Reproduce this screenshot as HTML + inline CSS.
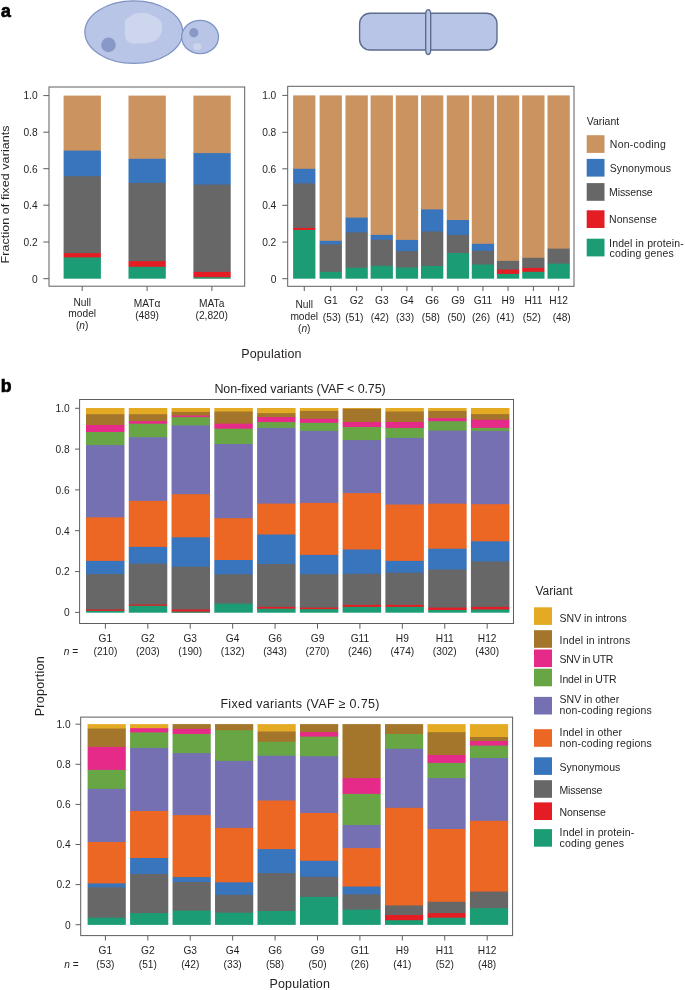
<!DOCTYPE html>
<html><head><meta charset="utf-8"><style>
html,body{margin:0;padding:0;background:#fff;}
body{width:685px;height:990px;overflow:hidden;}
svg{display:block;will-change:transform;}
text{font-family:"Liberation Sans", sans-serif;fill:#231f20;}
</style></head><body>
<svg width="685" height="990" viewBox="0 0 685 990">
<rect width="685" height="990" fill="#fff"/>
<text x="0.90" y="16.60" font-size="17.6" text-anchor="start" font-weight="bold" style="fill:#000" stroke="#000" stroke-width="0.7">a</text>
<g stroke="#7f94c3" stroke-width="1.3"><ellipse cx="133.8" cy="32.1" rx="48.9" ry="31.3" fill="#b8c5e6"/><ellipse cx="200.1" cy="37.0" rx="18.4" ry="16.6" fill="#b8c5e6"/></g>
<path d="M125.3 20.6 C125.9 18.9 127.3 18.8 128.5 17.8 C129.7 16.8 131.2 15.6 132.6 14.8 C134.0 14.1 134.8 13.6 137.0 13.3 C139.2 13.0 143.4 12.7 145.7 12.9 C148.0 13.2 149.1 14.1 150.8 14.8 C152.5 15.5 154.4 16.3 156.0 17.3 C157.6 18.3 159.3 19.3 160.3 20.6 C161.3 21.9 161.6 23.4 161.8 25.0 C162.1 26.6 162.2 28.2 161.8 30.1 C161.4 32.1 160.8 34.9 159.6 36.7 C158.4 38.5 156.6 40.0 154.5 41.0 C152.4 42.0 149.6 42.5 147.2 42.9 C144.8 43.3 142.6 43.5 139.9 43.6 C137.2 43.7 133.3 43.8 131.1 43.2 C128.9 42.7 127.8 41.6 126.8 40.3 C125.8 39.0 125.2 37.3 124.9 35.2 C124.6 33.1 124.8 30.3 124.9 27.9 C125.0 25.5 124.7 22.3 125.3 20.6Z" fill="#ced6ed"/>
<circle cx="108.5" cy="44.9" r="7.3" fill="#8898c7"/>
<circle cx="193.8" cy="32.7" r="4.6" fill="#8898c7"/>
<ellipse cx="197.3" cy="46.6" rx="4.3" ry="3.4" fill="#cdd5ed"/>
<g stroke="#5b6b8c" stroke-width="1.35" fill="#b8c5e6"><rect x="359.6" y="13.2" width="137.4" height="36.8" rx="10.5" ry="10.5"/><path d="M428.2 9.6 C430.1 9.6 430.7 12.3 430.7 14.8 L430.7 49.3 C430.7 51.8 430.1 54.5 428.2 54.5 C426.3 54.5 425.7 51.8 425.7 49.3 L425.7 14.8 C425.7 12.3 426.3 9.6 428.2 9.6 Z"/></g>
<rect x="49.0" y="87.0" width="195.7" height="199.2" fill="none" stroke="#5e5e5e" stroke-width="1"/>
<line x1="43.30" y1="95.60" x2="49.00" y2="95.60" stroke="#5e5e5e" stroke-width="1"/>
<text x="37.60" y="99.40" font-size="10.2" text-anchor="end" >1.0</text>
<line x1="43.30" y1="132.20" x2="49.00" y2="132.20" stroke="#5e5e5e" stroke-width="1"/>
<text x="37.60" y="136.00" font-size="10.2" text-anchor="end" >0.8</text>
<line x1="43.30" y1="168.70" x2="49.00" y2="168.70" stroke="#5e5e5e" stroke-width="1"/>
<text x="37.60" y="172.50" font-size="10.2" text-anchor="end" >0.6</text>
<line x1="43.30" y1="205.20" x2="49.00" y2="205.20" stroke="#5e5e5e" stroke-width="1"/>
<text x="37.60" y="209.00" font-size="10.2" text-anchor="end" >0.4</text>
<line x1="43.30" y1="242.00" x2="49.00" y2="242.00" stroke="#5e5e5e" stroke-width="1"/>
<text x="37.60" y="245.80" font-size="10.2" text-anchor="end" >0.2</text>
<line x1="43.30" y1="278.70" x2="49.00" y2="278.70" stroke="#5e5e5e" stroke-width="1"/>
<text x="37.60" y="282.50" font-size="10.2" text-anchor="end" >0</text>
<rect x="64.00" y="95.60" width="36.00" height="56.00" fill="#cb9360"/>
<rect x="64.00" y="150.60" width="36.00" height="26.60" fill="#3875bd"/>
<rect x="64.00" y="176.20" width="36.00" height="77.90" fill="#676767"/>
<rect x="64.00" y="253.10" width="36.00" height="5.30" fill="#e31d23"/>
<rect x="64.00" y="257.40" width="36.00" height="21.30" fill="#1c9c74"/>
<g opacity="0.40">
<rect x="63.00" y="95.60" width="1.00" height="56.00" fill="#cb9360"/>
<rect x="63.00" y="150.60" width="1.00" height="26.60" fill="#3875bd"/>
<rect x="63.00" y="176.20" width="1.00" height="77.90" fill="#676767"/>
<rect x="63.00" y="253.10" width="1.00" height="5.30" fill="#e31d23"/>
<rect x="63.00" y="257.40" width="1.00" height="21.30" fill="#1c9c74"/>
</g>
<g opacity="0.90">
<rect x="100.00" y="95.60" width="1.00" height="56.00" fill="#cb9360"/>
<rect x="100.00" y="150.60" width="1.00" height="26.60" fill="#3875bd"/>
<rect x="100.00" y="176.20" width="1.00" height="77.90" fill="#676767"/>
<rect x="100.00" y="253.10" width="1.00" height="5.30" fill="#e31d23"/>
<rect x="100.00" y="257.40" width="1.00" height="21.30" fill="#1c9c74"/>
</g>
<rect x="129.00" y="95.60" width="36.00" height="64.20" fill="#cb9360"/>
<rect x="129.00" y="158.80" width="36.00" height="25.10" fill="#3875bd"/>
<rect x="129.00" y="182.90" width="36.00" height="79.20" fill="#676767"/>
<rect x="129.00" y="261.10" width="36.00" height="6.70" fill="#e31d23"/>
<rect x="129.00" y="266.80" width="36.00" height="11.90" fill="#1c9c74"/>
<g opacity="0.50">
<rect x="128.00" y="95.60" width="1.00" height="64.20" fill="#cb9360"/>
<rect x="128.00" y="158.80" width="1.00" height="25.10" fill="#3875bd"/>
<rect x="128.00" y="182.90" width="1.00" height="79.20" fill="#676767"/>
<rect x="128.00" y="261.10" width="1.00" height="6.70" fill="#e31d23"/>
<rect x="128.00" y="266.80" width="1.00" height="11.90" fill="#1c9c74"/>
</g>
<g opacity="0.80">
<rect x="165.00" y="95.60" width="1.00" height="64.20" fill="#cb9360"/>
<rect x="165.00" y="158.80" width="1.00" height="25.10" fill="#3875bd"/>
<rect x="165.00" y="182.90" width="1.00" height="79.20" fill="#676767"/>
<rect x="165.00" y="261.10" width="1.00" height="6.70" fill="#e31d23"/>
<rect x="165.00" y="266.80" width="1.00" height="11.90" fill="#1c9c74"/>
</g>
<rect x="194.00" y="95.60" width="36.00" height="58.50" fill="#cb9360"/>
<rect x="194.00" y="153.10" width="36.00" height="32.50" fill="#3875bd"/>
<rect x="194.00" y="184.60" width="36.00" height="88.30" fill="#676767"/>
<rect x="194.00" y="271.90" width="36.00" height="6.30" fill="#e31d23"/>
<rect x="194.00" y="277.20" width="36.00" height="1.50" fill="#1c9c74"/>
<g opacity="0.60">
<rect x="193.00" y="95.60" width="1.00" height="58.50" fill="#cb9360"/>
<rect x="193.00" y="153.10" width="1.00" height="32.50" fill="#3875bd"/>
<rect x="193.00" y="184.60" width="1.00" height="88.30" fill="#676767"/>
<rect x="193.00" y="271.90" width="1.00" height="6.30" fill="#e31d23"/>
<rect x="193.00" y="277.20" width="1.00" height="1.50" fill="#1c9c74"/>
</g>
<g opacity="0.70">
<rect x="230.00" y="95.60" width="1.00" height="58.50" fill="#cb9360"/>
<rect x="230.00" y="153.10" width="1.00" height="32.50" fill="#3875bd"/>
<rect x="230.00" y="184.60" width="1.00" height="88.30" fill="#676767"/>
<rect x="230.00" y="271.90" width="1.00" height="6.30" fill="#e31d23"/>
<rect x="230.00" y="277.20" width="1.00" height="1.50" fill="#1c9c74"/>
</g>
<line x1="82.20" y1="286.20" x2="82.20" y2="291.00" stroke="#5e5e5e" stroke-width="1"/>
<line x1="147.10" y1="286.20" x2="147.10" y2="291.00" stroke="#5e5e5e" stroke-width="1"/>
<line x1="211.90" y1="286.20" x2="211.90" y2="291.00" stroke="#5e5e5e" stroke-width="1"/>
<text x="82.20" y="305.80" font-size="10.2" text-anchor="middle" >Null</text>
<text x="82.20" y="317.10" font-size="10.2" text-anchor="middle" >model</text>
<text x="82.20" y="328.90" font-size="10.2" text-anchor="middle" >(<tspan font-style="italic">n</tspan>)</text>
<text x="147.10" y="307.10" font-size="10.2" text-anchor="middle" >MATα</text>
<text x="147.10" y="319.40" font-size="10.2" text-anchor="middle" >(489)</text>
<text x="211.70" y="307.10" font-size="10.2" text-anchor="middle" >MATa</text>
<text x="211.70" y="319.40" font-size="10.2" text-anchor="middle" >(2,820)</text>
<text transform="translate(8.9 194.4) rotate(-90) scale(1 0.92)" font-size="12.5" text-anchor="middle" letter-spacing="0.08">Fraction of fixed variants</text>
<rect x="287.7" y="86.3" width="286.3" height="200.0" fill="none" stroke="#5e5e5e" stroke-width="1"/>
<line x1="282.30" y1="95.40" x2="287.70" y2="95.40" stroke="#5e5e5e" stroke-width="1"/>
<text x="276.30" y="99.20" font-size="10.2" text-anchor="end" >1.0</text>
<line x1="282.30" y1="132.30" x2="287.70" y2="132.30" stroke="#5e5e5e" stroke-width="1"/>
<text x="276.30" y="136.10" font-size="10.2" text-anchor="end" >0.8</text>
<line x1="282.30" y1="168.80" x2="287.70" y2="168.80" stroke="#5e5e5e" stroke-width="1"/>
<text x="276.30" y="172.60" font-size="10.2" text-anchor="end" >0.6</text>
<line x1="282.30" y1="205.30" x2="287.70" y2="205.30" stroke="#5e5e5e" stroke-width="1"/>
<text x="276.30" y="209.10" font-size="10.2" text-anchor="end" >0.4</text>
<line x1="282.30" y1="242.10" x2="287.70" y2="242.10" stroke="#5e5e5e" stroke-width="1"/>
<text x="276.30" y="245.90" font-size="10.2" text-anchor="end" >0.2</text>
<line x1="282.30" y1="278.70" x2="287.70" y2="278.70" stroke="#5e5e5e" stroke-width="1"/>
<text x="276.30" y="282.50" font-size="10.2" text-anchor="end" >0</text>
<rect x="294.00" y="95.40" width="21.00" height="74.40" fill="#cb9360"/>
<rect x="294.00" y="168.80" width="21.00" height="15.60" fill="#3875bd"/>
<rect x="294.00" y="183.40" width="21.00" height="45.50" fill="#676767"/>
<rect x="294.00" y="227.90" width="21.00" height="3.10" fill="#e31d23"/>
<rect x="294.00" y="230.00" width="21.00" height="48.70" fill="#1c9c74"/>
<g opacity="0.90">
<rect x="293.00" y="95.40" width="1.00" height="74.40" fill="#cb9360"/>
<rect x="293.00" y="168.80" width="1.00" height="15.60" fill="#3875bd"/>
<rect x="293.00" y="183.40" width="1.00" height="45.50" fill="#676767"/>
<rect x="293.00" y="227.90" width="1.00" height="3.10" fill="#e31d23"/>
<rect x="293.00" y="230.00" width="1.00" height="48.70" fill="#1c9c74"/>
</g>
<g opacity="0.40">
<rect x="315.00" y="95.40" width="1.00" height="74.40" fill="#cb9360"/>
<rect x="315.00" y="168.80" width="1.00" height="15.60" fill="#3875bd"/>
<rect x="315.00" y="183.40" width="1.00" height="45.50" fill="#676767"/>
<rect x="315.00" y="227.90" width="1.00" height="3.10" fill="#e31d23"/>
<rect x="315.00" y="230.00" width="1.00" height="48.70" fill="#1c9c74"/>
</g>
<line x1="304.25" y1="286.30" x2="304.25" y2="291.00" stroke="#5e5e5e" stroke-width="1"/>
<text x="304.25" y="308.30" font-size="10.2" text-anchor="middle" >Null</text>
<text x="304.25" y="320.10" font-size="10.2" text-anchor="middle" >model</text>
<text x="304.25" y="331.60" font-size="10.2" text-anchor="middle" >(<tspan font-style="italic">n</tspan>)</text>
<rect x="320.00" y="95.40" width="21.00" height="146.40" fill="#cb9360"/>
<rect x="320.00" y="240.80" width="21.00" height="4.50" fill="#3875bd"/>
<rect x="320.00" y="244.30" width="21.00" height="28.60" fill="#676767"/>
<rect x="320.00" y="271.90" width="21.00" height="6.80" fill="#1c9c74"/>
<g opacity="0.40">
<rect x="319.00" y="95.40" width="1.00" height="146.40" fill="#cb9360"/>
<rect x="319.00" y="240.80" width="1.00" height="4.50" fill="#3875bd"/>
<rect x="319.00" y="244.30" width="1.00" height="28.60" fill="#676767"/>
<rect x="319.00" y="271.90" width="1.00" height="6.80" fill="#1c9c74"/>
</g>
<g opacity="0.90">
<rect x="341.00" y="95.40" width="1.00" height="146.40" fill="#cb9360"/>
<rect x="341.00" y="240.80" width="1.00" height="4.50" fill="#3875bd"/>
<rect x="341.00" y="244.30" width="1.00" height="28.60" fill="#676767"/>
<rect x="341.00" y="271.90" width="1.00" height="6.80" fill="#1c9c74"/>
</g>
<line x1="330.75" y1="286.30" x2="330.75" y2="291.00" stroke="#5e5e5e" stroke-width="1"/>
<text x="330.75" y="303.50" font-size="10.2" text-anchor="middle" >G1</text>
<text x="331.90" y="320.50" font-size="10.2" text-anchor="middle" >(53)</text>
<rect x="346.00" y="95.40" width="21.00" height="123.20" fill="#cb9360"/>
<rect x="346.00" y="217.60" width="21.00" height="15.70" fill="#3875bd"/>
<rect x="346.00" y="232.30" width="21.00" height="36.40" fill="#676767"/>
<rect x="346.00" y="267.70" width="21.00" height="11.00" fill="#1c9c74"/>
<g opacity="0.50">
<rect x="345.00" y="95.40" width="1.00" height="123.20" fill="#cb9360"/>
<rect x="345.00" y="217.60" width="1.00" height="15.70" fill="#3875bd"/>
<rect x="345.00" y="232.30" width="1.00" height="36.40" fill="#676767"/>
<rect x="345.00" y="267.70" width="1.00" height="11.00" fill="#1c9c74"/>
</g>
<g opacity="0.80">
<rect x="367.00" y="95.40" width="1.00" height="123.20" fill="#cb9360"/>
<rect x="367.00" y="217.60" width="1.00" height="15.70" fill="#3875bd"/>
<rect x="367.00" y="232.30" width="1.00" height="36.40" fill="#676767"/>
<rect x="367.00" y="267.70" width="1.00" height="11.00" fill="#1c9c74"/>
</g>
<line x1="356.65" y1="286.30" x2="356.65" y2="291.00" stroke="#5e5e5e" stroke-width="1"/>
<text x="356.65" y="303.50" font-size="10.2" text-anchor="middle" >G2</text>
<text x="354.40" y="320.50" font-size="10.2" text-anchor="middle" >(51)</text>
<rect x="371.00" y="95.40" width="21.00" height="140.50" fill="#cb9360"/>
<rect x="371.00" y="234.90" width="21.00" height="5.80" fill="#3875bd"/>
<rect x="371.00" y="239.70" width="21.00" height="27.10" fill="#676767"/>
<rect x="371.00" y="265.80" width="21.00" height="12.90" fill="#1c9c74"/>
<g opacity="0.40">
<rect x="370.00" y="95.40" width="1.00" height="140.50" fill="#cb9360"/>
<rect x="370.00" y="234.90" width="1.00" height="5.80" fill="#3875bd"/>
<rect x="370.00" y="239.70" width="1.00" height="27.10" fill="#676767"/>
<rect x="370.00" y="265.80" width="1.00" height="12.90" fill="#1c9c74"/>
</g>
<g opacity="0.90">
<rect x="392.00" y="95.40" width="1.00" height="140.50" fill="#cb9360"/>
<rect x="392.00" y="234.90" width="1.00" height="5.80" fill="#3875bd"/>
<rect x="392.00" y="239.70" width="1.00" height="27.10" fill="#676767"/>
<rect x="392.00" y="265.80" width="1.00" height="12.90" fill="#1c9c74"/>
</g>
<line x1="381.75" y1="286.30" x2="381.75" y2="291.00" stroke="#5e5e5e" stroke-width="1"/>
<text x="381.75" y="303.50" font-size="10.2" text-anchor="middle" >G3</text>
<text x="379.80" y="320.50" font-size="10.2" text-anchor="middle" >(42)</text>
<rect x="396.00" y="95.40" width="22.00" height="145.50" fill="#cb9360"/>
<rect x="396.00" y="239.90" width="22.00" height="12.20" fill="#3875bd"/>
<rect x="396.00" y="251.10" width="22.00" height="17.40" fill="#676767"/>
<rect x="396.00" y="267.50" width="22.00" height="11.20" fill="#1c9c74"/>
<g opacity="0.20">
<rect x="395.00" y="95.40" width="1.00" height="145.50" fill="#cb9360"/>
<rect x="395.00" y="239.90" width="1.00" height="12.20" fill="#3875bd"/>
<rect x="395.00" y="251.10" width="1.00" height="17.40" fill="#676767"/>
<rect x="395.00" y="267.50" width="1.00" height="11.20" fill="#1c9c74"/>
</g>
<g opacity="0.10">
<rect x="418.00" y="95.40" width="1.00" height="145.50" fill="#cb9360"/>
<rect x="418.00" y="239.90" width="1.00" height="12.20" fill="#3875bd"/>
<rect x="418.00" y="251.10" width="1.00" height="17.40" fill="#676767"/>
<rect x="418.00" y="267.50" width="1.00" height="11.20" fill="#1c9c74"/>
</g>
<line x1="406.95" y1="286.30" x2="406.95" y2="291.00" stroke="#5e5e5e" stroke-width="1"/>
<text x="406.95" y="303.50" font-size="10.2" text-anchor="middle" >G4</text>
<text x="405.00" y="320.50" font-size="10.2" text-anchor="middle" >(33)</text>
<rect x="421.00" y="95.40" width="22.00" height="115.00" fill="#cb9360"/>
<rect x="421.00" y="209.40" width="22.00" height="23.10" fill="#3875bd"/>
<rect x="421.00" y="231.50" width="22.00" height="35.50" fill="#676767"/>
<rect x="421.00" y="266.00" width="22.00" height="12.70" fill="#1c9c74"/>
<g opacity="0.30">
<rect x="443.00" y="95.40" width="1.00" height="115.00" fill="#cb9360"/>
<rect x="443.00" y="209.40" width="1.00" height="23.10" fill="#3875bd"/>
<rect x="443.00" y="231.50" width="1.00" height="35.50" fill="#676767"/>
<rect x="443.00" y="266.00" width="1.00" height="12.70" fill="#1c9c74"/>
</g>
<line x1="432.15" y1="286.30" x2="432.15" y2="291.00" stroke="#5e5e5e" stroke-width="1"/>
<text x="432.15" y="303.50" font-size="10.2" text-anchor="middle" >G6</text>
<text x="430.90" y="320.50" font-size="10.2" text-anchor="middle" >(58)</text>
<rect x="447.00" y="95.40" width="22.00" height="125.60" fill="#cb9360"/>
<rect x="447.00" y="220.00" width="22.00" height="15.90" fill="#3875bd"/>
<rect x="447.00" y="234.90" width="22.00" height="19.10" fill="#676767"/>
<rect x="447.00" y="253.00" width="22.00" height="25.70" fill="#1c9c74"/>
<g opacity="0.20">
<rect x="446.00" y="95.40" width="1.00" height="125.60" fill="#cb9360"/>
<rect x="446.00" y="220.00" width="1.00" height="15.90" fill="#3875bd"/>
<rect x="446.00" y="234.90" width="1.00" height="19.10" fill="#676767"/>
<rect x="446.00" y="253.00" width="1.00" height="25.70" fill="#1c9c74"/>
</g>
<g opacity="0.10">
<rect x="469.00" y="95.40" width="1.00" height="125.60" fill="#cb9360"/>
<rect x="469.00" y="220.00" width="1.00" height="15.90" fill="#3875bd"/>
<rect x="469.00" y="234.90" width="1.00" height="19.10" fill="#676767"/>
<rect x="469.00" y="253.00" width="1.00" height="25.70" fill="#1c9c74"/>
</g>
<line x1="457.95" y1="286.30" x2="457.95" y2="291.00" stroke="#5e5e5e" stroke-width="1"/>
<text x="457.95" y="303.50" font-size="10.2" text-anchor="middle" >G9</text>
<text x="456.60" y="320.50" font-size="10.2" text-anchor="middle" >(50)</text>
<rect x="472.00" y="95.40" width="22.00" height="149.40" fill="#cb9360"/>
<rect x="472.00" y="243.80" width="22.00" height="8.00" fill="#3875bd"/>
<rect x="472.00" y="250.80" width="22.00" height="14.70" fill="#676767"/>
<rect x="472.00" y="264.50" width="22.00" height="14.20" fill="#1c9c74"/>
<g opacity="0.20">
<rect x="471.00" y="95.40" width="1.00" height="149.40" fill="#cb9360"/>
<rect x="471.00" y="243.80" width="1.00" height="8.00" fill="#3875bd"/>
<rect x="471.00" y="250.80" width="1.00" height="14.70" fill="#676767"/>
<rect x="471.00" y="264.50" width="1.00" height="14.20" fill="#1c9c74"/>
</g>
<g opacity="0.10">
<rect x="494.00" y="95.40" width="1.00" height="149.40" fill="#cb9360"/>
<rect x="494.00" y="243.80" width="1.00" height="8.00" fill="#3875bd"/>
<rect x="494.00" y="250.80" width="1.00" height="14.70" fill="#676767"/>
<rect x="494.00" y="264.50" width="1.00" height="14.20" fill="#1c9c74"/>
</g>
<line x1="482.95" y1="286.30" x2="482.95" y2="291.00" stroke="#5e5e5e" stroke-width="1"/>
<text x="482.95" y="303.50" font-size="10.2" text-anchor="middle" >G11</text>
<text x="481.00" y="320.50" font-size="10.2" text-anchor="middle" >(26)</text>
<rect x="497.00" y="95.40" width="22.00" height="166.50" fill="#cb9360"/>
<rect x="497.00" y="260.90" width="22.00" height="9.70" fill="#676767"/>
<rect x="497.00" y="269.60" width="22.00" height="5.30" fill="#e31d23"/>
<rect x="497.00" y="273.90" width="22.00" height="4.80" fill="#1c9c74"/>
<g opacity="0.10">
<rect x="496.00" y="95.40" width="1.00" height="166.50" fill="#cb9360"/>
<rect x="496.00" y="260.90" width="1.00" height="9.70" fill="#676767"/>
<rect x="496.00" y="269.60" width="1.00" height="5.30" fill="#e31d23"/>
<rect x="496.00" y="273.90" width="1.00" height="4.80" fill="#1c9c74"/>
</g>
<g opacity="0.20">
<rect x="519.00" y="95.40" width="1.00" height="166.50" fill="#cb9360"/>
<rect x="519.00" y="260.90" width="1.00" height="9.70" fill="#676767"/>
<rect x="519.00" y="269.60" width="1.00" height="5.30" fill="#e31d23"/>
<rect x="519.00" y="273.90" width="1.00" height="4.80" fill="#1c9c74"/>
</g>
<line x1="508.05" y1="286.30" x2="508.05" y2="291.00" stroke="#5e5e5e" stroke-width="1"/>
<text x="508.05" y="303.50" font-size="10.2" text-anchor="middle" >H9</text>
<text x="505.30" y="320.50" font-size="10.2" text-anchor="middle" >(41)</text>
<rect x="523.00" y="95.40" width="21.00" height="163.40" fill="#cb9360"/>
<rect x="523.00" y="257.80" width="21.00" height="11.10" fill="#676767"/>
<rect x="523.00" y="267.90" width="21.00" height="4.90" fill="#e31d23"/>
<rect x="523.00" y="271.80" width="21.00" height="6.90" fill="#1c9c74"/>
<g opacity="0.80">
<rect x="522.00" y="95.40" width="1.00" height="163.40" fill="#cb9360"/>
<rect x="522.00" y="257.80" width="1.00" height="11.10" fill="#676767"/>
<rect x="522.00" y="267.90" width="1.00" height="4.90" fill="#e31d23"/>
<rect x="522.00" y="271.80" width="1.00" height="6.90" fill="#1c9c74"/>
</g>
<g opacity="0.50">
<rect x="544.00" y="95.40" width="1.00" height="163.40" fill="#cb9360"/>
<rect x="544.00" y="257.80" width="1.00" height="11.10" fill="#676767"/>
<rect x="544.00" y="267.90" width="1.00" height="4.90" fill="#e31d23"/>
<rect x="544.00" y="271.80" width="1.00" height="6.90" fill="#1c9c74"/>
</g>
<line x1="533.35" y1="286.30" x2="533.35" y2="291.00" stroke="#5e5e5e" stroke-width="1"/>
<text x="533.35" y="303.50" font-size="10.2" text-anchor="middle" >H11</text>
<text x="531.80" y="320.50" font-size="10.2" text-anchor="middle" >(52)</text>
<rect x="548.00" y="95.40" width="21.00" height="154.20" fill="#cb9360"/>
<rect x="548.00" y="248.60" width="21.00" height="16.00" fill="#676767"/>
<rect x="548.00" y="263.60" width="21.00" height="15.10" fill="#1c9c74"/>
<g opacity="0.50">
<rect x="547.00" y="95.40" width="1.00" height="154.20" fill="#cb9360"/>
<rect x="547.00" y="248.60" width="1.00" height="16.00" fill="#676767"/>
<rect x="547.00" y="263.60" width="1.00" height="15.10" fill="#1c9c74"/>
</g>
<g opacity="0.80">
<rect x="569.00" y="95.40" width="1.00" height="154.20" fill="#cb9360"/>
<rect x="569.00" y="248.60" width="1.00" height="16.00" fill="#676767"/>
<rect x="569.00" y="263.60" width="1.00" height="15.10" fill="#1c9c74"/>
</g>
<line x1="558.65" y1="286.30" x2="558.65" y2="291.00" stroke="#5e5e5e" stroke-width="1"/>
<text x="558.65" y="303.50" font-size="10.2" text-anchor="middle" >H12</text>
<text x="561.70" y="320.50" font-size="10.2" text-anchor="middle" >(48)</text>
<text x="271.40" y="357.70" font-size="12.5" text-anchor="middle"  letter-spacing="0.140">Population</text>
<text x="586.70" y="125.20" font-size="10.5" text-anchor="start" >Variant</text>
<rect x="586.70" y="135.20" width="17.80" height="17.70" fill="#cb9360"/>
<text x="609.80" y="148.10" font-size="10.5" text-anchor="start"  letter-spacing="0.250">Non-coding</text>
<rect x="586.70" y="158.90" width="17.80" height="17.70" fill="#3875bd"/>
<text x="609.80" y="171.80" font-size="10.5" text-anchor="start"  letter-spacing="0.050">Synonymous</text>
<rect x="586.70" y="183.10" width="17.80" height="17.70" fill="#676767"/>
<text x="609.10" y="196.00" font-size="10.5" text-anchor="start"  letter-spacing="-0.120">Missense</text>
<rect x="586.70" y="210.30" width="17.80" height="17.70" fill="#e31d23"/>
<text x="609.10" y="223.00" font-size="10.5" text-anchor="start"  letter-spacing="0.050">Nonsense</text>
<rect x="586.70" y="238.70" width="17.80" height="17.70" fill="#1c9c74"/>
<text x="609.10" y="247.00" font-size="10.5" text-anchor="start"  letter-spacing="0.140">Indel in protein-</text>
<text x="609.50" y="256.90" font-size="10.5" text-anchor="start"  letter-spacing="0.170">coding genes</text>
<text x="0.80" y="391.70" font-size="17.6" text-anchor="start" font-weight="bold" style="fill:#000" stroke="#000" stroke-width="0.7">b</text>
<text x="300.00" y="393.40" font-size="12.5" text-anchor="middle"  letter-spacing="-0.107">Non-fixed variants (VAF &lt; 0.75)</text>
<rect x="79.6" y="399.5" width="433.9" height="224.0" fill="none" stroke="#5e5e5e" stroke-width="1"/>
<line x1="75.00" y1="408.30" x2="79.60" y2="408.30" stroke="#5e5e5e" stroke-width="1"/>
<text x="69.70" y="412.10" font-size="10.2" text-anchor="end" >1.0</text>
<line x1="75.00" y1="449.10" x2="79.60" y2="449.10" stroke="#5e5e5e" stroke-width="1"/>
<text x="69.70" y="452.90" font-size="10.2" text-anchor="end" >0.8</text>
<line x1="75.00" y1="489.90" x2="79.60" y2="489.90" stroke="#5e5e5e" stroke-width="1"/>
<text x="69.70" y="493.70" font-size="10.2" text-anchor="end" >0.6</text>
<line x1="75.00" y1="530.70" x2="79.60" y2="530.70" stroke="#5e5e5e" stroke-width="1"/>
<text x="69.70" y="534.50" font-size="10.2" text-anchor="end" >0.4</text>
<line x1="75.00" y1="571.60" x2="79.60" y2="571.60" stroke="#5e5e5e" stroke-width="1"/>
<text x="69.70" y="575.40" font-size="10.2" text-anchor="end" >0.2</text>
<line x1="75.00" y1="612.40" x2="79.60" y2="612.40" stroke="#5e5e5e" stroke-width="1"/>
<text x="69.70" y="616.20" font-size="10.2" text-anchor="end" >0</text>
<rect x="86.00" y="408.00" width="38.00" height="7.20" fill="#e5aa24"/>
<rect x="86.00" y="414.20" width="38.00" height="11.80" fill="#a3762b"/>
<rect x="86.00" y="425.00" width="38.00" height="8.00" fill="#e52a89"/>
<rect x="86.00" y="432.00" width="38.00" height="14.10" fill="#68a645"/>
<rect x="86.00" y="445.10" width="38.00" height="73.20" fill="#7570b1"/>
<rect x="86.00" y="517.30" width="38.00" height="44.60" fill="#ec6624"/>
<rect x="86.00" y="560.90" width="38.00" height="14.10" fill="#3875bd"/>
<rect x="86.00" y="574.00" width="38.00" height="36.50" fill="#676767"/>
<rect x="86.00" y="609.50" width="38.00" height="2.40" fill="#e31d23"/>
<rect x="86.00" y="610.90" width="38.00" height="1.80" fill="#1c9c74"/>
<g opacity="0.50">
<rect x="124.00" y="408.00" width="1.00" height="7.20" fill="#e5aa24"/>
<rect x="124.00" y="414.20" width="1.00" height="11.80" fill="#a3762b"/>
<rect x="124.00" y="425.00" width="1.00" height="8.00" fill="#e52a89"/>
<rect x="124.00" y="432.00" width="1.00" height="14.10" fill="#68a645"/>
<rect x="124.00" y="445.10" width="1.00" height="73.20" fill="#7570b1"/>
<rect x="124.00" y="517.30" width="1.00" height="44.60" fill="#ec6624"/>
<rect x="124.00" y="560.90" width="1.00" height="14.10" fill="#3875bd"/>
<rect x="124.00" y="574.00" width="1.00" height="36.50" fill="#676767"/>
<rect x="124.00" y="609.50" width="1.00" height="2.40" fill="#e31d23"/>
<rect x="124.00" y="610.90" width="1.00" height="1.80" fill="#1c9c74"/>
</g>
<line x1="105.40" y1="623.50" x2="105.40" y2="628.70" stroke="#5e5e5e" stroke-width="1"/>
<text x="105.40" y="642.30" font-size="10.2" text-anchor="middle" >G1</text>
<text x="105.40" y="655.40" font-size="10.2" text-anchor="middle" >(210)</text>
<rect x="129.00" y="408.00" width="38.00" height="7.20" fill="#e5aa24"/>
<rect x="129.00" y="414.20" width="38.00" height="7.90" fill="#a3762b"/>
<rect x="129.00" y="421.10" width="38.00" height="3.60" fill="#e52a89"/>
<rect x="129.00" y="423.70" width="38.00" height="14.50" fill="#68a645"/>
<rect x="129.00" y="437.20" width="38.00" height="64.70" fill="#7570b1"/>
<rect x="129.00" y="500.90" width="38.00" height="47.00" fill="#ec6624"/>
<rect x="129.00" y="546.90" width="38.00" height="17.70" fill="#3875bd"/>
<rect x="129.00" y="563.60" width="38.00" height="41.90" fill="#676767"/>
<rect x="129.00" y="604.50" width="38.00" height="2.30" fill="#e31d23"/>
<rect x="129.00" y="605.80" width="38.00" height="6.90" fill="#1c9c74"/>
<g opacity="0.23">
<rect x="128.00" y="408.00" width="1.00" height="7.20" fill="#e5aa24"/>
<rect x="128.00" y="414.20" width="1.00" height="7.90" fill="#a3762b"/>
<rect x="128.00" y="421.10" width="1.00" height="3.60" fill="#e52a89"/>
<rect x="128.00" y="423.70" width="1.00" height="14.50" fill="#68a645"/>
<rect x="128.00" y="437.20" width="1.00" height="64.70" fill="#7570b1"/>
<rect x="128.00" y="500.90" width="1.00" height="47.00" fill="#ec6624"/>
<rect x="128.00" y="546.90" width="1.00" height="17.70" fill="#3875bd"/>
<rect x="128.00" y="563.60" width="1.00" height="41.90" fill="#676767"/>
<rect x="128.00" y="604.50" width="1.00" height="2.30" fill="#e31d23"/>
<rect x="128.00" y="605.80" width="1.00" height="6.90" fill="#1c9c74"/>
</g>
<g opacity="0.27">
<rect x="167.00" y="408.00" width="1.00" height="7.20" fill="#e5aa24"/>
<rect x="167.00" y="414.20" width="1.00" height="7.90" fill="#a3762b"/>
<rect x="167.00" y="421.10" width="1.00" height="3.60" fill="#e52a89"/>
<rect x="167.00" y="423.70" width="1.00" height="14.50" fill="#68a645"/>
<rect x="167.00" y="437.20" width="1.00" height="64.70" fill="#7570b1"/>
<rect x="167.00" y="500.90" width="1.00" height="47.00" fill="#ec6624"/>
<rect x="167.00" y="546.90" width="1.00" height="17.70" fill="#3875bd"/>
<rect x="167.00" y="563.60" width="1.00" height="41.90" fill="#676767"/>
<rect x="167.00" y="604.50" width="1.00" height="2.30" fill="#e31d23"/>
<rect x="167.00" y="605.80" width="1.00" height="6.90" fill="#1c9c74"/>
</g>
<line x1="147.82" y1="623.50" x2="147.82" y2="628.70" stroke="#5e5e5e" stroke-width="1"/>
<text x="147.82" y="642.30" font-size="10.2" text-anchor="middle" >G2</text>
<text x="147.82" y="655.40" font-size="10.2" text-anchor="middle" >(203)</text>
<rect x="172.00" y="408.00" width="38.00" height="4.90" fill="#e5aa24"/>
<rect x="172.00" y="411.90" width="38.00" height="4.60" fill="#a3762b"/>
<rect x="172.00" y="415.50" width="38.00" height="2.60" fill="#e52a89"/>
<rect x="172.00" y="417.10" width="38.00" height="9.30" fill="#68a645"/>
<rect x="172.00" y="425.40" width="38.00" height="69.80" fill="#7570b1"/>
<rect x="172.00" y="494.20" width="38.00" height="44.10" fill="#ec6624"/>
<rect x="172.00" y="537.30" width="38.00" height="30.40" fill="#3875bd"/>
<rect x="172.00" y="566.70" width="38.00" height="43.80" fill="#676767"/>
<rect x="172.00" y="609.50" width="38.00" height="3.10" fill="#e31d23"/>
<rect x="172.00" y="611.60" width="38.00" height="1.10" fill="#1c9c74"/>
<g opacity="0.46">
<rect x="171.00" y="408.00" width="1.00" height="4.90" fill="#e5aa24"/>
<rect x="171.00" y="411.90" width="1.00" height="4.60" fill="#a3762b"/>
<rect x="171.00" y="415.50" width="1.00" height="2.60" fill="#e52a89"/>
<rect x="171.00" y="417.10" width="1.00" height="9.30" fill="#68a645"/>
<rect x="171.00" y="425.40" width="1.00" height="69.80" fill="#7570b1"/>
<rect x="171.00" y="494.20" width="1.00" height="44.10" fill="#ec6624"/>
<rect x="171.00" y="537.30" width="1.00" height="30.40" fill="#3875bd"/>
<rect x="171.00" y="566.70" width="1.00" height="43.80" fill="#676767"/>
<rect x="171.00" y="609.50" width="1.00" height="3.10" fill="#e31d23"/>
<rect x="171.00" y="611.60" width="1.00" height="1.10" fill="#1c9c74"/>
</g>
<line x1="190.24" y1="623.50" x2="190.24" y2="628.70" stroke="#5e5e5e" stroke-width="1"/>
<text x="190.24" y="642.30" font-size="10.2" text-anchor="middle" >G3</text>
<text x="190.24" y="655.40" font-size="10.2" text-anchor="middle" >(190)</text>
<rect x="215.00" y="408.00" width="37.00" height="4.50" fill="#e5aa24"/>
<rect x="215.00" y="411.50" width="37.00" height="13.20" fill="#a3762b"/>
<rect x="215.00" y="423.70" width="37.00" height="6.00" fill="#e52a89"/>
<rect x="215.00" y="428.70" width="37.00" height="16.30" fill="#68a645"/>
<rect x="215.00" y="444.00" width="37.00" height="75.20" fill="#7570b1"/>
<rect x="215.00" y="518.20" width="37.00" height="42.80" fill="#ec6624"/>
<rect x="215.00" y="560.00" width="37.00" height="15.20" fill="#3875bd"/>
<rect x="215.00" y="574.20" width="37.00" height="30.40" fill="#676767"/>
<rect x="215.00" y="603.60" width="37.00" height="9.10" fill="#1c9c74"/>
<g opacity="0.69">
<rect x="214.00" y="408.00" width="1.00" height="4.50" fill="#e5aa24"/>
<rect x="214.00" y="411.50" width="1.00" height="13.20" fill="#a3762b"/>
<rect x="214.00" y="423.70" width="1.00" height="6.00" fill="#e52a89"/>
<rect x="214.00" y="428.70" width="1.00" height="16.30" fill="#68a645"/>
<rect x="214.00" y="444.00" width="1.00" height="75.20" fill="#7570b1"/>
<rect x="214.00" y="518.20" width="1.00" height="42.80" fill="#ec6624"/>
<rect x="214.00" y="560.00" width="1.00" height="15.20" fill="#3875bd"/>
<rect x="214.00" y="574.20" width="1.00" height="30.40" fill="#676767"/>
<rect x="214.00" y="603.60" width="1.00" height="9.10" fill="#1c9c74"/>
</g>
<g opacity="0.81">
<rect x="252.00" y="408.00" width="1.00" height="4.50" fill="#e5aa24"/>
<rect x="252.00" y="411.50" width="1.00" height="13.20" fill="#a3762b"/>
<rect x="252.00" y="423.70" width="1.00" height="6.00" fill="#e52a89"/>
<rect x="252.00" y="428.70" width="1.00" height="16.30" fill="#68a645"/>
<rect x="252.00" y="444.00" width="1.00" height="75.20" fill="#7570b1"/>
<rect x="252.00" y="518.20" width="1.00" height="42.80" fill="#ec6624"/>
<rect x="252.00" y="560.00" width="1.00" height="15.20" fill="#3875bd"/>
<rect x="252.00" y="574.20" width="1.00" height="30.40" fill="#676767"/>
<rect x="252.00" y="603.60" width="1.00" height="9.10" fill="#1c9c74"/>
</g>
<line x1="232.66" y1="623.50" x2="232.66" y2="628.70" stroke="#5e5e5e" stroke-width="1"/>
<text x="232.66" y="642.30" font-size="10.2" text-anchor="middle" >G4</text>
<text x="232.66" y="655.40" font-size="10.2" text-anchor="middle" >(132)</text>
<rect x="258.00" y="408.00" width="37.00" height="6.20" fill="#e5aa24"/>
<rect x="258.00" y="413.20" width="37.00" height="4.90" fill="#a3762b"/>
<rect x="258.00" y="417.10" width="37.00" height="6.00" fill="#e52a89"/>
<rect x="258.00" y="422.10" width="37.00" height="6.80" fill="#68a645"/>
<rect x="258.00" y="427.90" width="37.00" height="76.70" fill="#7570b1"/>
<rect x="258.00" y="503.60" width="37.00" height="31.90" fill="#ec6624"/>
<rect x="258.00" y="534.50" width="37.00" height="30.50" fill="#3875bd"/>
<rect x="258.00" y="564.00" width="37.00" height="43.90" fill="#676767"/>
<rect x="258.00" y="606.90" width="37.00" height="2.80" fill="#e31d23"/>
<rect x="258.00" y="608.70" width="37.00" height="4.00" fill="#1c9c74"/>
<g opacity="0.92">
<rect x="257.00" y="408.00" width="1.00" height="6.20" fill="#e5aa24"/>
<rect x="257.00" y="413.20" width="1.00" height="4.90" fill="#a3762b"/>
<rect x="257.00" y="417.10" width="1.00" height="6.00" fill="#e52a89"/>
<rect x="257.00" y="422.10" width="1.00" height="6.80" fill="#68a645"/>
<rect x="257.00" y="427.90" width="1.00" height="76.70" fill="#7570b1"/>
<rect x="257.00" y="503.60" width="1.00" height="31.90" fill="#ec6624"/>
<rect x="257.00" y="534.50" width="1.00" height="30.50" fill="#3875bd"/>
<rect x="257.00" y="564.00" width="1.00" height="43.90" fill="#676767"/>
<rect x="257.00" y="606.90" width="1.00" height="2.80" fill="#e31d23"/>
<rect x="257.00" y="608.70" width="1.00" height="4.00" fill="#1c9c74"/>
</g>
<g opacity="0.58">
<rect x="295.00" y="408.00" width="1.00" height="6.20" fill="#e5aa24"/>
<rect x="295.00" y="413.20" width="1.00" height="4.90" fill="#a3762b"/>
<rect x="295.00" y="417.10" width="1.00" height="6.00" fill="#e52a89"/>
<rect x="295.00" y="422.10" width="1.00" height="6.80" fill="#68a645"/>
<rect x="295.00" y="427.90" width="1.00" height="76.70" fill="#7570b1"/>
<rect x="295.00" y="503.60" width="1.00" height="31.90" fill="#ec6624"/>
<rect x="295.00" y="534.50" width="1.00" height="30.50" fill="#3875bd"/>
<rect x="295.00" y="564.00" width="1.00" height="43.90" fill="#676767"/>
<rect x="295.00" y="606.90" width="1.00" height="2.80" fill="#e31d23"/>
<rect x="295.00" y="608.70" width="1.00" height="4.00" fill="#1c9c74"/>
</g>
<line x1="275.08" y1="623.50" x2="275.08" y2="628.70" stroke="#5e5e5e" stroke-width="1"/>
<text x="275.08" y="642.30" font-size="10.2" text-anchor="middle" >G6</text>
<text x="275.08" y="655.40" font-size="10.2" text-anchor="middle" >(343)</text>
<rect x="300.00" y="408.00" width="38.00" height="3.90" fill="#e5aa24"/>
<rect x="300.00" y="410.90" width="38.00" height="8.90" fill="#a3762b"/>
<rect x="300.00" y="418.80" width="38.00" height="5.00" fill="#e52a89"/>
<rect x="300.00" y="422.80" width="38.00" height="9.10" fill="#68a645"/>
<rect x="300.00" y="430.90" width="38.00" height="73.00" fill="#7570b1"/>
<rect x="300.00" y="502.90" width="38.00" height="53.00" fill="#ec6624"/>
<rect x="300.00" y="554.90" width="38.00" height="20.30" fill="#3875bd"/>
<rect x="300.00" y="574.20" width="38.00" height="34.40" fill="#676767"/>
<rect x="300.00" y="607.60" width="38.00" height="2.50" fill="#e31d23"/>
<rect x="300.00" y="609.10" width="38.00" height="3.60" fill="#1c9c74"/>
<g opacity="0.15">
<rect x="299.00" y="408.00" width="1.00" height="3.90" fill="#e5aa24"/>
<rect x="299.00" y="410.90" width="1.00" height="8.90" fill="#a3762b"/>
<rect x="299.00" y="418.80" width="1.00" height="5.00" fill="#e52a89"/>
<rect x="299.00" y="422.80" width="1.00" height="9.10" fill="#68a645"/>
<rect x="299.00" y="430.90" width="1.00" height="73.00" fill="#7570b1"/>
<rect x="299.00" y="502.90" width="1.00" height="53.00" fill="#ec6624"/>
<rect x="299.00" y="554.90" width="1.00" height="20.30" fill="#3875bd"/>
<rect x="299.00" y="574.20" width="1.00" height="34.40" fill="#676767"/>
<rect x="299.00" y="607.60" width="1.00" height="2.50" fill="#e31d23"/>
<rect x="299.00" y="609.10" width="1.00" height="3.60" fill="#1c9c74"/>
</g>
<g opacity="0.35">
<rect x="338.00" y="408.00" width="1.00" height="3.90" fill="#e5aa24"/>
<rect x="338.00" y="410.90" width="1.00" height="8.90" fill="#a3762b"/>
<rect x="338.00" y="418.80" width="1.00" height="5.00" fill="#e52a89"/>
<rect x="338.00" y="422.80" width="1.00" height="9.10" fill="#68a645"/>
<rect x="338.00" y="430.90" width="1.00" height="73.00" fill="#7570b1"/>
<rect x="338.00" y="502.90" width="1.00" height="53.00" fill="#ec6624"/>
<rect x="338.00" y="554.90" width="1.00" height="20.30" fill="#3875bd"/>
<rect x="338.00" y="574.20" width="1.00" height="34.40" fill="#676767"/>
<rect x="338.00" y="607.60" width="1.00" height="2.50" fill="#e31d23"/>
<rect x="338.00" y="609.10" width="1.00" height="3.60" fill="#1c9c74"/>
</g>
<line x1="317.50" y1="623.50" x2="317.50" y2="628.70" stroke="#5e5e5e" stroke-width="1"/>
<text x="317.50" y="642.30" font-size="10.2" text-anchor="middle" >G9</text>
<text x="317.50" y="655.40" font-size="10.2" text-anchor="middle" >(270)</text>
<rect x="343.00" y="408.00" width="38.00" height="1.80" fill="#e5aa24"/>
<rect x="343.00" y="408.80" width="38.00" height="14.30" fill="#a3762b"/>
<rect x="343.00" y="422.10" width="38.00" height="5.90" fill="#e52a89"/>
<rect x="343.00" y="427.00" width="38.00" height="14.10" fill="#68a645"/>
<rect x="343.00" y="440.10" width="38.00" height="54.00" fill="#7570b1"/>
<rect x="343.00" y="493.10" width="38.00" height="57.40" fill="#ec6624"/>
<rect x="343.00" y="549.50" width="38.00" height="25.30" fill="#3875bd"/>
<rect x="343.00" y="573.80" width="38.00" height="32.10" fill="#676767"/>
<rect x="343.00" y="604.90" width="38.00" height="3.00" fill="#e31d23"/>
<rect x="343.00" y="606.90" width="38.00" height="5.80" fill="#1c9c74"/>
<g opacity="0.38">
<rect x="342.00" y="408.00" width="1.00" height="1.80" fill="#e5aa24"/>
<rect x="342.00" y="408.80" width="1.00" height="14.30" fill="#a3762b"/>
<rect x="342.00" y="422.10" width="1.00" height="5.90" fill="#e52a89"/>
<rect x="342.00" y="427.00" width="1.00" height="14.10" fill="#68a645"/>
<rect x="342.00" y="440.10" width="1.00" height="54.00" fill="#7570b1"/>
<rect x="342.00" y="493.10" width="1.00" height="57.40" fill="#ec6624"/>
<rect x="342.00" y="549.50" width="1.00" height="25.30" fill="#3875bd"/>
<rect x="342.00" y="573.80" width="1.00" height="32.10" fill="#676767"/>
<rect x="342.00" y="604.90" width="1.00" height="3.00" fill="#e31d23"/>
<rect x="342.00" y="606.90" width="1.00" height="5.80" fill="#1c9c74"/>
</g>
<g opacity="0.12">
<rect x="381.00" y="408.00" width="1.00" height="1.80" fill="#e5aa24"/>
<rect x="381.00" y="408.80" width="1.00" height="14.30" fill="#a3762b"/>
<rect x="381.00" y="422.10" width="1.00" height="5.90" fill="#e52a89"/>
<rect x="381.00" y="427.00" width="1.00" height="14.10" fill="#68a645"/>
<rect x="381.00" y="440.10" width="1.00" height="54.00" fill="#7570b1"/>
<rect x="381.00" y="493.10" width="1.00" height="57.40" fill="#ec6624"/>
<rect x="381.00" y="549.50" width="1.00" height="25.30" fill="#3875bd"/>
<rect x="381.00" y="573.80" width="1.00" height="32.10" fill="#676767"/>
<rect x="381.00" y="604.90" width="1.00" height="3.00" fill="#e31d23"/>
<rect x="381.00" y="606.90" width="1.00" height="5.80" fill="#1c9c74"/>
</g>
<line x1="359.92" y1="623.50" x2="359.92" y2="628.70" stroke="#5e5e5e" stroke-width="1"/>
<text x="359.92" y="642.30" font-size="10.2" text-anchor="middle" >G11</text>
<text x="359.92" y="655.40" font-size="10.2" text-anchor="middle" >(246)</text>
<rect x="386.00" y="408.00" width="37.00" height="4.50" fill="#e5aa24"/>
<rect x="386.00" y="411.50" width="37.00" height="11.50" fill="#a3762b"/>
<rect x="386.00" y="422.00" width="37.00" height="6.90" fill="#e52a89"/>
<rect x="386.00" y="427.90" width="37.00" height="11.00" fill="#68a645"/>
<rect x="386.00" y="437.90" width="37.00" height="67.60" fill="#7570b1"/>
<rect x="386.00" y="504.50" width="37.00" height="57.40" fill="#ec6624"/>
<rect x="386.00" y="560.90" width="37.00" height="12.80" fill="#3875bd"/>
<rect x="386.00" y="572.70" width="37.00" height="33.20" fill="#676767"/>
<rect x="386.00" y="604.90" width="37.00" height="3.00" fill="#e31d23"/>
<rect x="386.00" y="606.90" width="37.00" height="5.80" fill="#1c9c74"/>
<g opacity="0.61">
<rect x="385.00" y="408.00" width="1.00" height="4.50" fill="#e5aa24"/>
<rect x="385.00" y="411.50" width="1.00" height="11.50" fill="#a3762b"/>
<rect x="385.00" y="422.00" width="1.00" height="6.90" fill="#e52a89"/>
<rect x="385.00" y="427.90" width="1.00" height="11.00" fill="#68a645"/>
<rect x="385.00" y="437.90" width="1.00" height="67.60" fill="#7570b1"/>
<rect x="385.00" y="504.50" width="1.00" height="57.40" fill="#ec6624"/>
<rect x="385.00" y="560.90" width="1.00" height="12.80" fill="#3875bd"/>
<rect x="385.00" y="572.70" width="1.00" height="33.20" fill="#676767"/>
<rect x="385.00" y="604.90" width="1.00" height="3.00" fill="#e31d23"/>
<rect x="385.00" y="606.90" width="1.00" height="5.80" fill="#1c9c74"/>
</g>
<g opacity="0.89">
<rect x="423.00" y="408.00" width="1.00" height="4.50" fill="#e5aa24"/>
<rect x="423.00" y="411.50" width="1.00" height="11.50" fill="#a3762b"/>
<rect x="423.00" y="422.00" width="1.00" height="6.90" fill="#e52a89"/>
<rect x="423.00" y="427.90" width="1.00" height="11.00" fill="#68a645"/>
<rect x="423.00" y="437.90" width="1.00" height="67.60" fill="#7570b1"/>
<rect x="423.00" y="504.50" width="1.00" height="57.40" fill="#ec6624"/>
<rect x="423.00" y="560.90" width="1.00" height="12.80" fill="#3875bd"/>
<rect x="423.00" y="572.70" width="1.00" height="33.20" fill="#676767"/>
<rect x="423.00" y="604.90" width="1.00" height="3.00" fill="#e31d23"/>
<rect x="423.00" y="606.90" width="1.00" height="5.80" fill="#1c9c74"/>
</g>
<line x1="402.34" y1="623.50" x2="402.34" y2="628.70" stroke="#5e5e5e" stroke-width="1"/>
<text x="402.34" y="642.30" font-size="10.2" text-anchor="middle" >H9</text>
<text x="402.34" y="655.40" font-size="10.2" text-anchor="middle" >(474)</text>
<rect x="429.00" y="408.00" width="37.00" height="3.90" fill="#e5aa24"/>
<rect x="429.00" y="410.90" width="37.00" height="8.30" fill="#a3762b"/>
<rect x="429.00" y="418.20" width="37.00" height="4.00" fill="#e52a89"/>
<rect x="429.00" y="421.20" width="37.00" height="10.40" fill="#68a645"/>
<rect x="429.00" y="430.60" width="37.00" height="74.00" fill="#7570b1"/>
<rect x="429.00" y="503.60" width="37.00" height="46.10" fill="#ec6624"/>
<rect x="429.00" y="548.70" width="37.00" height="21.80" fill="#3875bd"/>
<rect x="429.00" y="569.50" width="37.00" height="39.10" fill="#676767"/>
<rect x="429.00" y="607.60" width="37.00" height="3.40" fill="#e31d23"/>
<rect x="429.00" y="610.00" width="37.00" height="2.70" fill="#1c9c74"/>
<g opacity="0.84">
<rect x="428.00" y="408.00" width="1.00" height="3.90" fill="#e5aa24"/>
<rect x="428.00" y="410.90" width="1.00" height="8.30" fill="#a3762b"/>
<rect x="428.00" y="418.20" width="1.00" height="4.00" fill="#e52a89"/>
<rect x="428.00" y="421.20" width="1.00" height="10.40" fill="#68a645"/>
<rect x="428.00" y="430.60" width="1.00" height="74.00" fill="#7570b1"/>
<rect x="428.00" y="503.60" width="1.00" height="46.10" fill="#ec6624"/>
<rect x="428.00" y="548.70" width="1.00" height="21.80" fill="#3875bd"/>
<rect x="428.00" y="569.50" width="1.00" height="39.10" fill="#676767"/>
<rect x="428.00" y="607.60" width="1.00" height="3.40" fill="#e31d23"/>
<rect x="428.00" y="610.00" width="1.00" height="2.70" fill="#1c9c74"/>
</g>
<g opacity="0.66">
<rect x="466.00" y="408.00" width="1.00" height="3.90" fill="#e5aa24"/>
<rect x="466.00" y="410.90" width="1.00" height="8.30" fill="#a3762b"/>
<rect x="466.00" y="418.20" width="1.00" height="4.00" fill="#e52a89"/>
<rect x="466.00" y="421.20" width="1.00" height="10.40" fill="#68a645"/>
<rect x="466.00" y="430.60" width="1.00" height="74.00" fill="#7570b1"/>
<rect x="466.00" y="503.60" width="1.00" height="46.10" fill="#ec6624"/>
<rect x="466.00" y="548.70" width="1.00" height="21.80" fill="#3875bd"/>
<rect x="466.00" y="569.50" width="1.00" height="39.10" fill="#676767"/>
<rect x="466.00" y="607.60" width="1.00" height="3.40" fill="#e31d23"/>
<rect x="466.00" y="610.00" width="1.00" height="2.70" fill="#1c9c74"/>
</g>
<line x1="444.76" y1="623.50" x2="444.76" y2="628.70" stroke="#5e5e5e" stroke-width="1"/>
<text x="444.76" y="642.30" font-size="10.2" text-anchor="middle" >H11</text>
<text x="444.76" y="655.40" font-size="10.2" text-anchor="middle" >(302)</text>
<rect x="471.00" y="408.00" width="38.00" height="7.10" fill="#e5aa24"/>
<rect x="471.00" y="414.10" width="38.00" height="6.60" fill="#a3762b"/>
<rect x="471.00" y="419.70" width="38.00" height="9.20" fill="#e52a89"/>
<rect x="471.00" y="427.90" width="38.00" height="4.00" fill="#68a645"/>
<rect x="471.00" y="430.90" width="38.00" height="74.30" fill="#7570b1"/>
<rect x="471.00" y="504.20" width="38.00" height="38.10" fill="#ec6624"/>
<rect x="471.00" y="541.30" width="38.00" height="21.20" fill="#3875bd"/>
<rect x="471.00" y="561.50" width="38.00" height="46.40" fill="#676767"/>
<rect x="471.00" y="606.90" width="38.00" height="3.60" fill="#e31d23"/>
<rect x="471.00" y="609.50" width="38.00" height="3.20" fill="#1c9c74"/>
<g opacity="0.07">
<rect x="470.00" y="408.00" width="1.00" height="7.10" fill="#e5aa24"/>
<rect x="470.00" y="414.10" width="1.00" height="6.60" fill="#a3762b"/>
<rect x="470.00" y="419.70" width="1.00" height="9.20" fill="#e52a89"/>
<rect x="470.00" y="427.90" width="1.00" height="4.00" fill="#68a645"/>
<rect x="470.00" y="430.90" width="1.00" height="74.30" fill="#7570b1"/>
<rect x="470.00" y="504.20" width="1.00" height="38.10" fill="#ec6624"/>
<rect x="470.00" y="541.30" width="1.00" height="21.20" fill="#3875bd"/>
<rect x="470.00" y="561.50" width="1.00" height="46.40" fill="#676767"/>
<rect x="470.00" y="606.90" width="1.00" height="3.60" fill="#e31d23"/>
<rect x="470.00" y="609.50" width="1.00" height="3.20" fill="#1c9c74"/>
</g>
<g opacity="0.43">
<rect x="509.00" y="408.00" width="1.00" height="7.10" fill="#e5aa24"/>
<rect x="509.00" y="414.10" width="1.00" height="6.60" fill="#a3762b"/>
<rect x="509.00" y="419.70" width="1.00" height="9.20" fill="#e52a89"/>
<rect x="509.00" y="427.90" width="1.00" height="4.00" fill="#68a645"/>
<rect x="509.00" y="430.90" width="1.00" height="74.30" fill="#7570b1"/>
<rect x="509.00" y="504.20" width="1.00" height="38.10" fill="#ec6624"/>
<rect x="509.00" y="541.30" width="1.00" height="21.20" fill="#3875bd"/>
<rect x="509.00" y="561.50" width="1.00" height="46.40" fill="#676767"/>
<rect x="509.00" y="606.90" width="1.00" height="3.60" fill="#e31d23"/>
<rect x="509.00" y="609.50" width="1.00" height="3.20" fill="#1c9c74"/>
</g>
<line x1="487.18" y1="623.50" x2="487.18" y2="628.70" stroke="#5e5e5e" stroke-width="1"/>
<text x="487.18" y="642.30" font-size="10.2" text-anchor="middle" >H12</text>
<text x="487.18" y="655.40" font-size="10.2" text-anchor="middle" >(430)</text>
<text x="63.80" y="655.40" font-size="10.2" text-anchor="start" ><tspan font-style="italic">n</tspan> =</text>
<text transform="translate(43.9 686.1) rotate(-90) scale(1 0.96)" font-size="12.5" text-anchor="middle" letter-spacing="0.26">Proportion</text>
<text x="300.00" y="708.30" font-size="12.5" text-anchor="middle"  letter-spacing="0.300">Fixed variants (VAF ≥ 0.75)</text>
<rect x="80.7" y="717.1" width="431.9" height="218.5" fill="none" stroke="#5e5e5e" stroke-width="1"/>
<line x1="75.60" y1="724.20" x2="80.70" y2="724.20" stroke="#5e5e5e" stroke-width="1"/>
<text x="70.60" y="728.00" font-size="10.2" text-anchor="end" >1.0</text>
<line x1="75.60" y1="764.30" x2="80.70" y2="764.30" stroke="#5e5e5e" stroke-width="1"/>
<text x="70.60" y="768.10" font-size="10.2" text-anchor="end" >0.8</text>
<line x1="75.60" y1="804.40" x2="80.70" y2="804.40" stroke="#5e5e5e" stroke-width="1"/>
<text x="70.60" y="808.20" font-size="10.2" text-anchor="end" >0.6</text>
<line x1="75.60" y1="844.50" x2="80.70" y2="844.50" stroke="#5e5e5e" stroke-width="1"/>
<text x="70.60" y="848.30" font-size="10.2" text-anchor="end" >0.4</text>
<line x1="75.60" y1="884.60" x2="80.70" y2="884.60" stroke="#5e5e5e" stroke-width="1"/>
<text x="70.60" y="888.40" font-size="10.2" text-anchor="end" >0.2</text>
<line x1="75.60" y1="924.70" x2="80.70" y2="924.70" stroke="#5e5e5e" stroke-width="1"/>
<text x="70.60" y="928.50" font-size="10.2" text-anchor="end" >0</text>
<rect x="88.00" y="724.10" width="37.00" height="5.40" fill="#e5aa24"/>
<rect x="88.00" y="728.50" width="37.00" height="19.40" fill="#a3762b"/>
<rect x="88.00" y="746.90" width="37.00" height="24.00" fill="#e52a89"/>
<rect x="88.00" y="769.90" width="37.00" height="20.00" fill="#68a645"/>
<rect x="88.00" y="788.90" width="37.00" height="54.10" fill="#7570b1"/>
<rect x="88.00" y="842.00" width="37.00" height="42.40" fill="#ec6624"/>
<rect x="88.00" y="883.40" width="37.00" height="4.90" fill="#3875bd"/>
<rect x="88.00" y="887.30" width="37.00" height="31.40" fill="#676767"/>
<rect x="88.00" y="917.70" width="37.00" height="7.20" fill="#1c9c74"/>
<g opacity="0.40">
<rect x="87.00" y="724.10" width="1.00" height="5.40" fill="#e5aa24"/>
<rect x="87.00" y="728.50" width="1.00" height="19.40" fill="#a3762b"/>
<rect x="87.00" y="746.90" width="1.00" height="24.00" fill="#e52a89"/>
<rect x="87.00" y="769.90" width="1.00" height="20.00" fill="#68a645"/>
<rect x="87.00" y="788.90" width="1.00" height="54.10" fill="#7570b1"/>
<rect x="87.00" y="842.00" width="1.00" height="42.40" fill="#ec6624"/>
<rect x="87.00" y="883.40" width="1.00" height="4.90" fill="#3875bd"/>
<rect x="87.00" y="887.30" width="1.00" height="31.40" fill="#676767"/>
<rect x="87.00" y="917.70" width="1.00" height="7.20" fill="#1c9c74"/>
</g>
<g opacity="0.80">
<rect x="125.00" y="724.10" width="1.00" height="5.40" fill="#e5aa24"/>
<rect x="125.00" y="728.50" width="1.00" height="19.40" fill="#a3762b"/>
<rect x="125.00" y="746.90" width="1.00" height="24.00" fill="#e52a89"/>
<rect x="125.00" y="769.90" width="1.00" height="20.00" fill="#68a645"/>
<rect x="125.00" y="788.90" width="1.00" height="54.10" fill="#7570b1"/>
<rect x="125.00" y="842.00" width="1.00" height="42.40" fill="#ec6624"/>
<rect x="125.00" y="883.40" width="1.00" height="4.90" fill="#3875bd"/>
<rect x="125.00" y="887.30" width="1.00" height="31.40" fill="#676767"/>
<rect x="125.00" y="917.70" width="1.00" height="7.20" fill="#1c9c74"/>
</g>
<line x1="105.40" y1="935.60" x2="105.40" y2="940.50" stroke="#5e5e5e" stroke-width="1"/>
<text x="105.40" y="953.90" font-size="10.2" text-anchor="middle" >G1</text>
<text x="105.40" y="967.60" font-size="10.2" text-anchor="middle" >(53)</text>
<rect x="131.00" y="724.10" width="37.00" height="5.10" fill="#e5aa24"/>
<rect x="131.00" y="728.20" width="37.00" height="5.20" fill="#e52a89"/>
<rect x="131.00" y="732.40" width="37.00" height="16.50" fill="#68a645"/>
<rect x="131.00" y="747.90" width="37.00" height="64.10" fill="#7570b1"/>
<rect x="131.00" y="811.00" width="37.00" height="48.00" fill="#ec6624"/>
<rect x="131.00" y="858.00" width="37.00" height="17.00" fill="#3875bd"/>
<rect x="131.00" y="874.00" width="37.00" height="40.10" fill="#676767"/>
<rect x="131.00" y="913.10" width="37.00" height="11.80" fill="#1c9c74"/>
<g opacity="0.92">
<rect x="130.00" y="724.10" width="1.00" height="5.10" fill="#e5aa24"/>
<rect x="130.00" y="728.20" width="1.00" height="5.20" fill="#e52a89"/>
<rect x="130.00" y="732.40" width="1.00" height="16.50" fill="#68a645"/>
<rect x="130.00" y="747.90" width="1.00" height="64.10" fill="#7570b1"/>
<rect x="130.00" y="811.00" width="1.00" height="48.00" fill="#ec6624"/>
<rect x="130.00" y="858.00" width="1.00" height="17.00" fill="#3875bd"/>
<rect x="130.00" y="874.00" width="1.00" height="40.10" fill="#676767"/>
<rect x="130.00" y="913.10" width="1.00" height="11.80" fill="#1c9c74"/>
</g>
<g opacity="0.28">
<rect x="168.00" y="724.10" width="1.00" height="5.10" fill="#e5aa24"/>
<rect x="168.00" y="728.20" width="1.00" height="5.20" fill="#e52a89"/>
<rect x="168.00" y="732.40" width="1.00" height="16.50" fill="#68a645"/>
<rect x="168.00" y="747.90" width="1.00" height="64.10" fill="#7570b1"/>
<rect x="168.00" y="811.00" width="1.00" height="48.00" fill="#ec6624"/>
<rect x="168.00" y="858.00" width="1.00" height="17.00" fill="#3875bd"/>
<rect x="168.00" y="874.00" width="1.00" height="40.10" fill="#676767"/>
<rect x="168.00" y="913.10" width="1.00" height="11.80" fill="#1c9c74"/>
</g>
<line x1="147.82" y1="935.60" x2="147.82" y2="940.50" stroke="#5e5e5e" stroke-width="1"/>
<text x="147.82" y="953.90" font-size="10.2" text-anchor="middle" >G2</text>
<text x="147.82" y="967.60" font-size="10.2" text-anchor="middle" >(51)</text>
<rect x="173.00" y="724.10" width="37.00" height="5.80" fill="#a3762b"/>
<rect x="173.00" y="728.90" width="37.00" height="6.10" fill="#e52a89"/>
<rect x="173.00" y="734.00" width="37.00" height="20.10" fill="#68a645"/>
<rect x="173.00" y="753.10" width="37.00" height="63.00" fill="#7570b1"/>
<rect x="173.00" y="815.10" width="37.00" height="63.00" fill="#ec6624"/>
<rect x="173.00" y="877.10" width="37.00" height="5.90" fill="#3875bd"/>
<rect x="173.00" y="882.00" width="37.00" height="29.60" fill="#676767"/>
<rect x="173.00" y="910.60" width="37.00" height="14.30" fill="#1c9c74"/>
<g opacity="0.44">
<rect x="172.00" y="724.10" width="1.00" height="5.80" fill="#a3762b"/>
<rect x="172.00" y="728.90" width="1.00" height="6.10" fill="#e52a89"/>
<rect x="172.00" y="734.00" width="1.00" height="20.10" fill="#68a645"/>
<rect x="172.00" y="753.10" width="1.00" height="63.00" fill="#7570b1"/>
<rect x="172.00" y="815.10" width="1.00" height="63.00" fill="#ec6624"/>
<rect x="172.00" y="877.10" width="1.00" height="5.90" fill="#3875bd"/>
<rect x="172.00" y="882.00" width="1.00" height="29.60" fill="#676767"/>
<rect x="172.00" y="910.60" width="1.00" height="14.30" fill="#1c9c74"/>
</g>
<g opacity="0.76">
<rect x="210.00" y="724.10" width="1.00" height="5.80" fill="#a3762b"/>
<rect x="210.00" y="728.90" width="1.00" height="6.10" fill="#e52a89"/>
<rect x="210.00" y="734.00" width="1.00" height="20.10" fill="#68a645"/>
<rect x="210.00" y="753.10" width="1.00" height="63.00" fill="#7570b1"/>
<rect x="210.00" y="815.10" width="1.00" height="63.00" fill="#ec6624"/>
<rect x="210.00" y="877.10" width="1.00" height="5.90" fill="#3875bd"/>
<rect x="210.00" y="882.00" width="1.00" height="29.60" fill="#676767"/>
<rect x="210.00" y="910.60" width="1.00" height="14.30" fill="#1c9c74"/>
</g>
<line x1="190.24" y1="935.60" x2="190.24" y2="940.50" stroke="#5e5e5e" stroke-width="1"/>
<text x="190.24" y="953.90" font-size="10.2" text-anchor="middle" >G3</text>
<text x="190.24" y="967.60" font-size="10.2" text-anchor="middle" >(42)</text>
<rect x="216.00" y="724.10" width="37.00" height="7.10" fill="#a3762b"/>
<rect x="216.00" y="730.20" width="37.00" height="31.70" fill="#68a645"/>
<rect x="216.00" y="760.90" width="37.00" height="68.00" fill="#7570b1"/>
<rect x="216.00" y="827.90" width="37.00" height="55.40" fill="#ec6624"/>
<rect x="216.00" y="882.30" width="37.00" height="13.50" fill="#3875bd"/>
<rect x="216.00" y="894.80" width="37.00" height="18.90" fill="#676767"/>
<rect x="216.00" y="912.70" width="37.00" height="12.20" fill="#1c9c74"/>
<g opacity="0.96">
<rect x="215.00" y="724.10" width="1.00" height="7.10" fill="#a3762b"/>
<rect x="215.00" y="730.20" width="1.00" height="31.70" fill="#68a645"/>
<rect x="215.00" y="760.90" width="1.00" height="68.00" fill="#7570b1"/>
<rect x="215.00" y="827.90" width="1.00" height="55.40" fill="#ec6624"/>
<rect x="215.00" y="882.30" width="1.00" height="13.50" fill="#3875bd"/>
<rect x="215.00" y="894.80" width="1.00" height="18.90" fill="#676767"/>
<rect x="215.00" y="912.70" width="1.00" height="12.20" fill="#1c9c74"/>
</g>
<g opacity="0.24">
<rect x="253.00" y="724.10" width="1.00" height="7.10" fill="#a3762b"/>
<rect x="253.00" y="730.20" width="1.00" height="31.70" fill="#68a645"/>
<rect x="253.00" y="760.90" width="1.00" height="68.00" fill="#7570b1"/>
<rect x="253.00" y="827.90" width="1.00" height="55.40" fill="#ec6624"/>
<rect x="253.00" y="882.30" width="1.00" height="13.50" fill="#3875bd"/>
<rect x="253.00" y="894.80" width="1.00" height="18.90" fill="#676767"/>
<rect x="253.00" y="912.70" width="1.00" height="12.20" fill="#1c9c74"/>
</g>
<line x1="232.66" y1="935.60" x2="232.66" y2="940.50" stroke="#5e5e5e" stroke-width="1"/>
<text x="232.66" y="953.90" font-size="10.2" text-anchor="middle" >G4</text>
<text x="232.66" y="967.60" font-size="10.2" text-anchor="middle" >(33)</text>
<rect x="258.00" y="724.10" width="37.00" height="8.40" fill="#e5aa24"/>
<rect x="258.00" y="731.50" width="37.00" height="11.30" fill="#a3762b"/>
<rect x="258.00" y="741.80" width="37.00" height="14.90" fill="#68a645"/>
<rect x="258.00" y="755.70" width="37.00" height="45.80" fill="#7570b1"/>
<rect x="258.00" y="800.50" width="37.00" height="49.60" fill="#ec6624"/>
<rect x="258.00" y="849.10" width="37.00" height="25.00" fill="#3875bd"/>
<rect x="258.00" y="873.10" width="37.00" height="38.90" fill="#676767"/>
<rect x="258.00" y="911.00" width="37.00" height="13.90" fill="#1c9c74"/>
<g opacity="0.48">
<rect x="257.00" y="724.10" width="1.00" height="8.40" fill="#e5aa24"/>
<rect x="257.00" y="731.50" width="1.00" height="11.30" fill="#a3762b"/>
<rect x="257.00" y="741.80" width="1.00" height="14.90" fill="#68a645"/>
<rect x="257.00" y="755.70" width="1.00" height="45.80" fill="#7570b1"/>
<rect x="257.00" y="800.50" width="1.00" height="49.60" fill="#ec6624"/>
<rect x="257.00" y="849.10" width="1.00" height="25.00" fill="#3875bd"/>
<rect x="257.00" y="873.10" width="1.00" height="38.90" fill="#676767"/>
<rect x="257.00" y="911.00" width="1.00" height="13.90" fill="#1c9c74"/>
</g>
<g opacity="0.72">
<rect x="295.00" y="724.10" width="1.00" height="8.40" fill="#e5aa24"/>
<rect x="295.00" y="731.50" width="1.00" height="11.30" fill="#a3762b"/>
<rect x="295.00" y="741.80" width="1.00" height="14.90" fill="#68a645"/>
<rect x="295.00" y="755.70" width="1.00" height="45.80" fill="#7570b1"/>
<rect x="295.00" y="800.50" width="1.00" height="49.60" fill="#ec6624"/>
<rect x="295.00" y="849.10" width="1.00" height="25.00" fill="#3875bd"/>
<rect x="295.00" y="873.10" width="1.00" height="38.90" fill="#676767"/>
<rect x="295.00" y="911.00" width="1.00" height="13.90" fill="#1c9c74"/>
</g>
<line x1="275.08" y1="935.60" x2="275.08" y2="940.50" stroke="#5e5e5e" stroke-width="1"/>
<text x="275.08" y="953.90" font-size="10.2" text-anchor="middle" >G6</text>
<text x="275.08" y="967.60" font-size="10.2" text-anchor="middle" >(58)</text>
<rect x="300.00" y="724.10" width="38.00" height="9.10" fill="#a3762b"/>
<rect x="300.00" y="732.20" width="38.00" height="5.40" fill="#e52a89"/>
<rect x="300.00" y="736.60" width="38.00" height="20.70" fill="#68a645"/>
<rect x="300.00" y="756.30" width="38.00" height="57.70" fill="#7570b1"/>
<rect x="300.00" y="813.00" width="38.00" height="48.80" fill="#ec6624"/>
<rect x="300.00" y="860.80" width="38.00" height="17.00" fill="#3875bd"/>
<rect x="300.00" y="876.80" width="38.00" height="21.10" fill="#676767"/>
<rect x="300.00" y="896.90" width="38.00" height="28.00" fill="#1c9c74"/>
<g opacity="0.20">
<rect x="338.00" y="724.10" width="1.00" height="9.10" fill="#a3762b"/>
<rect x="338.00" y="732.20" width="1.00" height="5.40" fill="#e52a89"/>
<rect x="338.00" y="736.60" width="1.00" height="20.70" fill="#68a645"/>
<rect x="338.00" y="756.30" width="1.00" height="57.70" fill="#7570b1"/>
<rect x="338.00" y="813.00" width="1.00" height="48.80" fill="#ec6624"/>
<rect x="338.00" y="860.80" width="1.00" height="17.00" fill="#3875bd"/>
<rect x="338.00" y="876.80" width="1.00" height="21.10" fill="#676767"/>
<rect x="338.00" y="896.90" width="1.00" height="28.00" fill="#1c9c74"/>
</g>
<line x1="317.50" y1="935.60" x2="317.50" y2="940.50" stroke="#5e5e5e" stroke-width="1"/>
<text x="317.50" y="953.90" font-size="10.2" text-anchor="middle" >G9</text>
<text x="317.50" y="967.60" font-size="10.2" text-anchor="middle" >(50)</text>
<rect x="343.00" y="724.10" width="37.00" height="55.00" fill="#a3762b"/>
<rect x="343.00" y="778.10" width="37.00" height="16.80" fill="#e52a89"/>
<rect x="343.00" y="793.90" width="37.00" height="32.10" fill="#68a645"/>
<rect x="343.00" y="825.00" width="37.00" height="24.10" fill="#7570b1"/>
<rect x="343.00" y="848.10" width="37.00" height="39.50" fill="#ec6624"/>
<rect x="343.00" y="886.60" width="37.00" height="8.70" fill="#3875bd"/>
<rect x="343.00" y="894.30" width="37.00" height="16.30" fill="#676767"/>
<rect x="343.00" y="909.60" width="37.00" height="15.30" fill="#1c9c74"/>
<g opacity="0.52">
<rect x="342.00" y="724.10" width="1.00" height="55.00" fill="#a3762b"/>
<rect x="342.00" y="778.10" width="1.00" height="16.80" fill="#e52a89"/>
<rect x="342.00" y="793.90" width="1.00" height="32.10" fill="#68a645"/>
<rect x="342.00" y="825.00" width="1.00" height="24.10" fill="#7570b1"/>
<rect x="342.00" y="848.10" width="1.00" height="39.50" fill="#ec6624"/>
<rect x="342.00" y="886.60" width="1.00" height="8.70" fill="#3875bd"/>
<rect x="342.00" y="894.30" width="1.00" height="16.30" fill="#676767"/>
<rect x="342.00" y="909.60" width="1.00" height="15.30" fill="#1c9c74"/>
</g>
<g opacity="0.68">
<rect x="380.00" y="724.10" width="1.00" height="55.00" fill="#a3762b"/>
<rect x="380.00" y="778.10" width="1.00" height="16.80" fill="#e52a89"/>
<rect x="380.00" y="793.90" width="1.00" height="32.10" fill="#68a645"/>
<rect x="380.00" y="825.00" width="1.00" height="24.10" fill="#7570b1"/>
<rect x="380.00" y="848.10" width="1.00" height="39.50" fill="#ec6624"/>
<rect x="380.00" y="886.60" width="1.00" height="8.70" fill="#3875bd"/>
<rect x="380.00" y="894.30" width="1.00" height="16.30" fill="#676767"/>
<rect x="380.00" y="909.60" width="1.00" height="15.30" fill="#1c9c74"/>
</g>
<line x1="359.92" y1="935.60" x2="359.92" y2="940.50" stroke="#5e5e5e" stroke-width="1"/>
<text x="359.92" y="953.90" font-size="10.2" text-anchor="middle" >G11</text>
<text x="359.92" y="967.60" font-size="10.2" text-anchor="middle" >(26)</text>
<rect x="385.00" y="724.10" width="38.00" height="10.90" fill="#a3762b"/>
<rect x="385.00" y="734.00" width="38.00" height="15.80" fill="#68a645"/>
<rect x="385.00" y="748.80" width="38.00" height="60.00" fill="#7570b1"/>
<rect x="385.00" y="807.80" width="38.00" height="98.60" fill="#ec6624"/>
<rect x="385.00" y="905.40" width="38.00" height="10.60" fill="#676767"/>
<rect x="385.00" y="915.00" width="38.00" height="6.20" fill="#e31d23"/>
<rect x="385.00" y="920.20" width="38.00" height="4.70" fill="#1c9c74"/>
<g opacity="0.16">
<rect x="423.00" y="724.10" width="1.00" height="10.90" fill="#a3762b"/>
<rect x="423.00" y="734.00" width="1.00" height="15.80" fill="#68a645"/>
<rect x="423.00" y="748.80" width="1.00" height="60.00" fill="#7570b1"/>
<rect x="423.00" y="807.80" width="1.00" height="98.60" fill="#ec6624"/>
<rect x="423.00" y="905.40" width="1.00" height="10.60" fill="#676767"/>
<rect x="423.00" y="915.00" width="1.00" height="6.20" fill="#e31d23"/>
<rect x="423.00" y="920.20" width="1.00" height="4.70" fill="#1c9c74"/>
</g>
<line x1="402.34" y1="935.60" x2="402.34" y2="940.50" stroke="#5e5e5e" stroke-width="1"/>
<text x="402.34" y="953.90" font-size="10.2" text-anchor="middle" >H9</text>
<text x="402.34" y="967.60" font-size="10.2" text-anchor="middle" >(41)</text>
<rect x="428.00" y="724.10" width="37.00" height="9.10" fill="#e5aa24"/>
<rect x="428.00" y="732.20" width="37.00" height="23.80" fill="#a3762b"/>
<rect x="428.00" y="755.00" width="37.00" height="8.90" fill="#e52a89"/>
<rect x="428.00" y="762.90" width="37.00" height="16.20" fill="#68a645"/>
<rect x="428.00" y="778.10" width="37.00" height="51.90" fill="#7570b1"/>
<rect x="428.00" y="829.00" width="37.00" height="73.80" fill="#ec6624"/>
<rect x="428.00" y="901.80" width="37.00" height="12.30" fill="#676767"/>
<rect x="428.00" y="913.10" width="37.00" height="5.60" fill="#e31d23"/>
<rect x="428.00" y="917.70" width="37.00" height="7.20" fill="#1c9c74"/>
<g opacity="0.56">
<rect x="427.00" y="724.10" width="1.00" height="9.10" fill="#e5aa24"/>
<rect x="427.00" y="732.20" width="1.00" height="23.80" fill="#a3762b"/>
<rect x="427.00" y="755.00" width="1.00" height="8.90" fill="#e52a89"/>
<rect x="427.00" y="762.90" width="1.00" height="16.20" fill="#68a645"/>
<rect x="427.00" y="778.10" width="1.00" height="51.90" fill="#7570b1"/>
<rect x="427.00" y="829.00" width="1.00" height="73.80" fill="#ec6624"/>
<rect x="427.00" y="901.80" width="1.00" height="12.30" fill="#676767"/>
<rect x="427.00" y="913.10" width="1.00" height="5.60" fill="#e31d23"/>
<rect x="427.00" y="917.70" width="1.00" height="7.20" fill="#1c9c74"/>
</g>
<g opacity="0.64">
<rect x="465.00" y="724.10" width="1.00" height="9.10" fill="#e5aa24"/>
<rect x="465.00" y="732.20" width="1.00" height="23.80" fill="#a3762b"/>
<rect x="465.00" y="755.00" width="1.00" height="8.90" fill="#e52a89"/>
<rect x="465.00" y="762.90" width="1.00" height="16.20" fill="#68a645"/>
<rect x="465.00" y="778.10" width="1.00" height="51.90" fill="#7570b1"/>
<rect x="465.00" y="829.00" width="1.00" height="73.80" fill="#ec6624"/>
<rect x="465.00" y="901.80" width="1.00" height="12.30" fill="#676767"/>
<rect x="465.00" y="913.10" width="1.00" height="5.60" fill="#e31d23"/>
<rect x="465.00" y="917.70" width="1.00" height="7.20" fill="#1c9c74"/>
</g>
<line x1="444.76" y1="935.60" x2="444.76" y2="940.50" stroke="#5e5e5e" stroke-width="1"/>
<text x="444.76" y="953.90" font-size="10.2" text-anchor="middle" >H11</text>
<text x="444.76" y="967.60" font-size="10.2" text-anchor="middle" >(52)</text>
<rect x="470.00" y="724.10" width="38.00" height="13.90" fill="#e5aa24"/>
<rect x="470.00" y="737.00" width="38.00" height="5.00" fill="#a3762b"/>
<rect x="470.00" y="741.00" width="38.00" height="5.60" fill="#e52a89"/>
<rect x="470.00" y="745.60" width="38.00" height="13.40" fill="#68a645"/>
<rect x="470.00" y="758.00" width="38.00" height="63.80" fill="#7570b1"/>
<rect x="470.00" y="820.80" width="38.00" height="71.80" fill="#ec6624"/>
<rect x="470.00" y="891.60" width="38.00" height="17.60" fill="#676767"/>
<rect x="470.00" y="908.20" width="38.00" height="16.70" fill="#1c9c74"/>
<g opacity="0.08">
<rect x="469.00" y="724.10" width="1.00" height="13.90" fill="#e5aa24"/>
<rect x="469.00" y="737.00" width="1.00" height="5.00" fill="#a3762b"/>
<rect x="469.00" y="741.00" width="1.00" height="5.60" fill="#e52a89"/>
<rect x="469.00" y="745.60" width="1.00" height="13.40" fill="#68a645"/>
<rect x="469.00" y="758.00" width="1.00" height="63.80" fill="#7570b1"/>
<rect x="469.00" y="820.80" width="1.00" height="71.80" fill="#ec6624"/>
<rect x="469.00" y="891.60" width="1.00" height="17.60" fill="#676767"/>
<rect x="469.00" y="908.20" width="1.00" height="16.70" fill="#1c9c74"/>
</g>
<g opacity="0.12">
<rect x="508.00" y="724.10" width="1.00" height="13.90" fill="#e5aa24"/>
<rect x="508.00" y="737.00" width="1.00" height="5.00" fill="#a3762b"/>
<rect x="508.00" y="741.00" width="1.00" height="5.60" fill="#e52a89"/>
<rect x="508.00" y="745.60" width="1.00" height="13.40" fill="#68a645"/>
<rect x="508.00" y="758.00" width="1.00" height="63.80" fill="#7570b1"/>
<rect x="508.00" y="820.80" width="1.00" height="71.80" fill="#ec6624"/>
<rect x="508.00" y="891.60" width="1.00" height="17.60" fill="#676767"/>
<rect x="508.00" y="908.20" width="1.00" height="16.70" fill="#1c9c74"/>
</g>
<line x1="487.18" y1="935.60" x2="487.18" y2="940.50" stroke="#5e5e5e" stroke-width="1"/>
<text x="487.18" y="953.90" font-size="10.2" text-anchor="middle" >H12</text>
<text x="487.18" y="967.60" font-size="10.2" text-anchor="middle" >(48)</text>
<text x="64.20" y="967.60" font-size="10.2" text-anchor="start" ><tspan font-style="italic">n</tspan> =</text>
<text x="299.80" y="988.00" font-size="12.5" text-anchor="middle"  letter-spacing="0.140">Population</text>
<text x="535.40" y="594.80" font-size="12" text-anchor="start" >Variant</text>
<rect x="534.00" y="607.30" width="18.00" height="17.60" fill="#e5aa24"/>
<text x="559.60" y="621.60" font-size="10.5" text-anchor="start" >SNV in introns</text>
<rect x="534.00" y="630.20" width="18.00" height="17.60" fill="#a3762b"/>
<text x="559.60" y="643.80" font-size="10.5" text-anchor="start"  letter-spacing="0.160">Indel in introns</text>
<rect x="534.00" y="649.50" width="18.00" height="17.60" fill="#e52a89"/>
<text x="559.60" y="662.90" font-size="10.5" text-anchor="start"  letter-spacing="-0.370">SNV in UTR</text>
<rect x="534.00" y="668.70" width="18.00" height="17.60" fill="#68a645"/>
<text x="559.60" y="682.60" font-size="10.5" text-anchor="start"  letter-spacing="-0.120">Indel in UTR</text>
<rect x="534.00" y="696.90" width="18.00" height="17.60" fill="#7570b1"/>
<text x="559.60" y="703.00" font-size="10.5" text-anchor="start" >SNV in other</text>
<text x="559.60" y="714.20" font-size="10.5" text-anchor="start"  letter-spacing="0.160">non-coding regions</text>
<rect x="534.00" y="729.20" width="18.00" height="17.60" fill="#ec6624"/>
<text x="559.60" y="736.10" font-size="10.5" text-anchor="start"  letter-spacing="0.130">Indel in other</text>
<text x="559.60" y="747.40" font-size="10.5" text-anchor="start"  letter-spacing="0.160">non-coding regions</text>
<rect x="534.00" y="757.30" width="18.00" height="17.60" fill="#3875bd"/>
<text x="559.60" y="771.20" font-size="10.5" text-anchor="start" >Synonymous</text>
<rect x="534.00" y="780.20" width="18.00" height="17.60" fill="#676767"/>
<text x="559.60" y="793.90" font-size="10.5" text-anchor="start"  letter-spacing="-0.240">Missense</text>
<rect x="534.00" y="802.40" width="18.00" height="17.60" fill="#e31d23"/>
<text x="559.60" y="815.90" font-size="10.5" text-anchor="start"  letter-spacing="-0.160">Nonsense</text>
<rect x="534.00" y="829.10" width="18.00" height="17.60" fill="#1c9c74"/>
<text x="559.60" y="835.50" font-size="10.5" text-anchor="start"  letter-spacing="0.140">Indel in protein-</text>
<text x="559.60" y="846.70" font-size="10.5" text-anchor="start"  letter-spacing="0.170">coding genes</text>
</svg>
</body></html>
